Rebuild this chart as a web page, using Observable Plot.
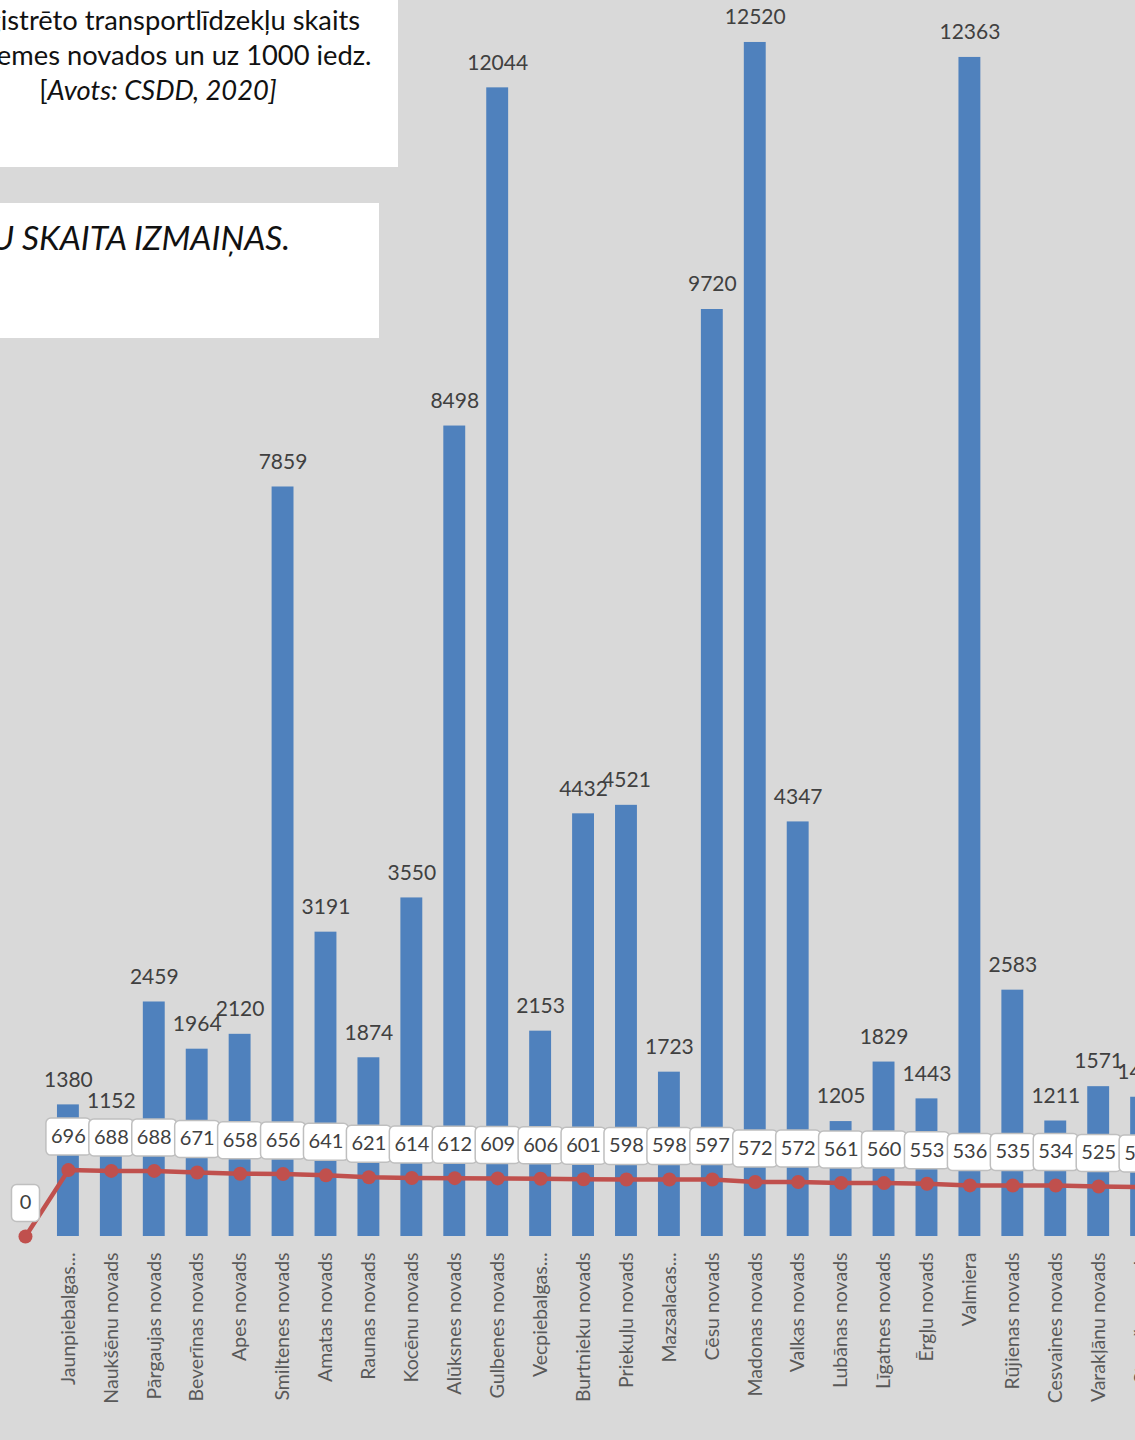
<!DOCTYPE html>
<html>
<head>
<meta charset="utf-8">
<script src="https://cdn.jsdelivr.net/npm/d3@7"></script>
<script src="https://cdn.jsdelivr.net/npm/@observablehq/plot@0.6"></script>
<style>
  html, body { margin: 0; padding: 0; background: #d9d9d9; overflow: hidden; }
  #wrap { position: relative; width: 1135px; height: 1440px; overflow: hidden; background: #d9d9d9; font-family: Lato, "Open Sans", sans-serif; }
  #chart { position: absolute; left: 0; top: 0; }
  .box { position: absolute; background: #ffffff; }
  .t1 { position: absolute; left: -142px; width: 600px; top: 2px; text-align: center; font-size: 27.3px; line-height: 35px; color: #111; white-space: nowrap; }
  .t2 { position: absolute; left: -410px; width: 700px; top: 216px; text-align: right; font-size: 33.5px; line-height: 42px; font-style: italic; color: #111; white-space: nowrap; }
</style>
</head>
<body>
<div id="wrap">
  <div id="chart"></div>
  <div class="box" style="left:-20px; top:-20px; width:418px; height:187px;"></div>
  <div class="t1">Reģistrēto transportlīdzekļu skaits<br>Vidzemes novados un uz 1000 iedz.<br>[<i>Avots: CSDD, 2020]</i></div>
  <div class="box" style="left:-20px; top:203px; width:399px; height:135px;"></div>
  <div class="t2">TRANSPORTLĪDZEKĻU SKAITA IZMAIŅAS.</div>
</div>
<script>
const districts = ["", "Jaunpiebalgas...", "Naukšēnu novads", "Pārgaujas novads", "Beverīnas novads", "Apes novads",
  "Smiltenes novads", "Amatas novads", "Raunas novads", "Kocēnu novads", "Alūksnes novads", "Gulbenes novads",
  "Vecpiebalgas...", "Burtnieku novads", "Priekuļu novads", "Mazsalacas...", "Cēsu novads", "Madonas novads",
  "Valkas novads", "Lubānas novads", "Līgatnes novads", "Ērgļu novads", "Valmiera", "Rūjienas novads",
  "Cesvaines novads", "Varakļānu novads", "Strenču novads"];
const vehicles = [null, 1380, 1152, 2459, 1964, 2120, 7859, 3191, 1874, 3550, 8498, 12044, 2153, 4432, 4521, 1723,
  9720, 12520, 4347, 1205, 1829, 1443, 12363, 2583, 1211, 1571, 1460];
const per1000 = [0, 696, 688, 688, 671, 658, 656, 641, 621, 614, 612, 609, 606, 601, 598, 598, 597, 572, 572,
  561, 560, 553, 536, 535, 534, 525, 519];

const data = districts.map((d, i) => ({name: d, bar: vehicles[i], line: per1000[i]}));

function roundBox(w, h, r) {
  return {
    draw(ctx) {
      const x0 = -w / 2, y0 = -h / 2, x1 = w / 2, y1 = h / 2;
      ctx.moveTo(x0 + r, y0);
      ctx.lineTo(x1 - r, y0);
      ctx.arcTo(x1, y0, x1, y0 + r, r);
      ctx.lineTo(x1, y1 - r);
      ctx.arcTo(x1, y1, x1 - r, y1, r);
      ctx.lineTo(x0 + r, y1);
      ctx.arcTo(x0, y1, x0, y1 - r, r);
      ctx.lineTo(x0, y0 + r);
      ctx.arcTo(x0, y0, x0 + r, y0, r);
      ctx.closePath();
    }
  };
}
const bigBox = roundBox(45, 37, 5);
const smallBox = roundBox(28, 37, 5);

const barData = data.filter(d => d.bar != null);

const chart = Plot.plot({
  width: 1135,
  height: 1440,
  marginTop: 0,
  marginBottom: 204,
  marginLeft: 0,
  marginRight: 0,
  style: {background: "#d9d9d9", fontFamily: "Lato, sans-serif", fontSize: "19.5px", color: "#595959", overflow: "visible"},
  x: {domain: districts, range: [-7, 1173.1], padding: 0.49, align: 0.5, round: false,
      tickRotate: -90, tickSize: 0, tickPadding: 16, label: null},
  y: {domain: [0, 12960], axis: null},
  marks: [
    Plot.barY(barData, {x: "name", y: "bar", fill: "#4f81bd"}),
    Plot.text(barData, {x: "name", y: "bar", text: d => String(d.bar), dy: -25, fill: "#404040", fontSize: 21}),
    Plot.line(data, {x: "name", y: "line", stroke: "#c0504d", strokeWidth: 4.5}),
    Plot.dot(data, {x: "name", y: "line", r: 7, fill: "#c0504d", stroke: "none"}),
    Plot.dot(data.filter(d => d.line < 10), {x: "name", y: "line", dy: -33.5, r: 10, symbol: smallBox,
      fill: "white", stroke: "#bfbfbf", strokeWidth: 1.5}),
    Plot.dot(data.filter(d => d.line >= 10), {x: "name", y: "line", dy: -33.5, r: 10, symbol: bigBox,
      fill: "white", stroke: "#bfbfbf", strokeWidth: 1.5}),
    Plot.text(data, {x: "name", y: "line", dy: -33.5, text: d => String(d.line), fill: "#404040", fontSize: 20})
  ]
});
document.getElementById("chart").appendChild(chart);
</script>
</body>
</html>
